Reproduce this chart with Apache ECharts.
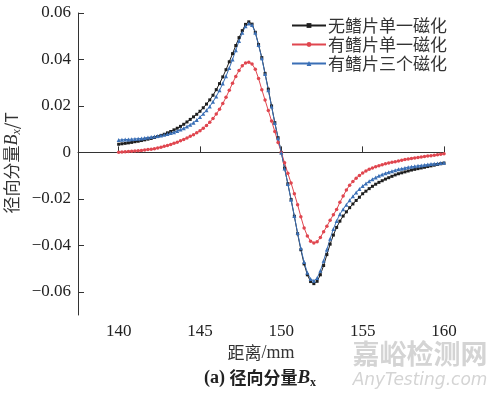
<!DOCTYPE html>
<html><head><meta charset="utf-8">
<script src="https://cdn.jsdelivr.net/npm/echarts@6/dist/echarts.min.js"></script>
<style>html,body{margin:0;padding:0;background:#fff}#c{width:500px;height:394px}</style>
</head><body><div id="c"></div>
<script>
var distance = [140.0,140.2,140.4,140.6,140.8,141.0,141.2,141.4,141.6,141.8,142.0,142.2,142.4,142.6,142.8,143.0,143.2,143.4,143.6,143.8,144.0,144.2,144.4,144.6,144.8,145.0,145.2,145.4,145.6,145.8,146.0,146.2,146.4,146.6,146.8,147.0,147.2,147.4,147.6,147.8,148.0,148.2,148.4,148.6,148.8,149.0,149.2,149.4,149.6,149.8,150.0,150.2,150.4,150.6,150.8,151.0,151.2,151.4,151.6,151.8,152.0,152.2,152.4,152.6,152.8,153.0,153.2,153.4,153.6,153.8,154.0,154.2,154.4,154.6,154.8,155.0,155.2,155.4,155.6,155.8,156.0,156.2,156.4,156.6,156.8,157.0,157.2,157.4,157.6,157.8,158.0,158.2,158.4,158.6,158.8,159.0,159.2,159.4,159.6,159.8,160.0];
var noFinSingle = [0.0035,0.0037,0.0039,0.0041,0.0043,0.0046,0.0048,0.0051,0.0054,0.0057,0.0060,0.0064,0.0068,0.0073,0.0078,0.0084,0.0090,0.0097,0.0104,0.0112,0.0121,0.0131,0.0142,0.0153,0.0164,0.0177,0.0192,0.0208,0.0226,0.0246,0.0270,0.0296,0.0325,0.0356,0.0390,0.0425,0.0460,0.0494,0.0524,0.0551,0.0562,0.0552,0.0517,0.0464,0.0408,0.0340,0.0272,0.0200,0.0128,0.0063,0.0000,-0.0068,-0.0135,-0.0203,-0.0275,-0.0350,-0.0419,-0.0480,-0.0527,-0.0556,-0.0565,-0.0555,-0.0527,-0.0487,-0.0440,-0.0395,-0.0356,-0.0323,-0.0296,-0.0274,-0.0256,-0.0238,-0.0222,-0.0207,-0.0193,-0.0178,-0.0167,-0.0156,-0.0146,-0.0137,-0.0129,-0.0122,-0.0115,-0.0109,-0.0103,-0.0097,-0.0092,-0.0088,-0.0084,-0.0080,-0.0076,-0.0073,-0.0070,-0.0067,-0.0064,-0.0061,-0.0058,-0.0055,-0.0052,-0.0049,-0.0046];
var finSingle = [0.0001,0.0002,0.0003,0.0004,0.0005,0.0006,0.0007,0.0008,0.0010,0.0012,0.0014,0.0016,0.0019,0.0022,0.0026,0.0030,0.0034,0.0039,0.0044,0.0050,0.0056,0.0062,0.0069,0.0076,0.0084,0.0093,0.0104,0.0116,0.0130,0.0146,0.0165,0.0186,0.0210,0.0237,0.0267,0.0298,0.0327,0.0353,0.0373,0.0385,0.0388,0.0380,0.0358,0.0318,0.0270,0.0225,0.0180,0.0135,0.0090,0.0043,0.0000,-0.0045,-0.0090,-0.0132,-0.0178,-0.0225,-0.0277,-0.0325,-0.0360,-0.0382,-0.0390,-0.0385,-0.0366,-0.0342,-0.0318,-0.0292,-0.0268,-0.0246,-0.0215,-0.0188,-0.0162,-0.0141,-0.0125,-0.0111,-0.0099,-0.0089,-0.0080,-0.0073,-0.0067,-0.0062,-0.0057,-0.0053,-0.0049,-0.0046,-0.0043,-0.0040,-0.0037,-0.0034,-0.0031,-0.0028,-0.0026,-0.0024,-0.0022,-0.0020,-0.0018,-0.0016,-0.0014,-0.0012,-0.0010,-0.0008,-0.0006];
var finTriple = [0.0053,0.0054,0.0055,0.0056,0.0057,0.0058,0.0059,0.0060,0.0062,0.0064,0.0066,0.0068,0.0070,0.0073,0.0076,0.0079,0.0083,0.0087,0.0092,0.0098,0.0104,0.0111,0.0119,0.0128,0.0139,0.0152,0.0166,0.0181,0.0198,0.0218,0.0241,0.0267,0.0296,0.0328,0.0363,0.0400,0.0440,0.0480,0.0515,0.0543,0.0555,0.0548,0.0515,0.0462,0.0405,0.0337,0.0268,0.0197,0.0126,0.0061,-0.0002,-0.0069,-0.0136,-0.0204,-0.0274,-0.0347,-0.0413,-0.0472,-0.0518,-0.0545,-0.0553,-0.0541,-0.0510,-0.0467,-0.0418,-0.0372,-0.0330,-0.0295,-0.0266,-0.0245,-0.0225,-0.0206,-0.0189,-0.0173,-0.0158,-0.0145,-0.0134,-0.0124,-0.0116,-0.0108,-0.0101,-0.0095,-0.0090,-0.0085,-0.0081,-0.0077,-0.0073,-0.0070,-0.0067,-0.0064,-0.0062,-0.0060,-0.0058,-0.0056,-0.0054,-0.0052,-0.0050,-0.0049,-0.0048,-0.0046,-0.0045];
var seriesNames = ['无鳍片单一磁化','有鳍片单一磁化','有鳍片三个磁化'];
var xTicks = [140,145,150,155,160];
var yTicks = [-0.06,-0.04,-0.02,0,0.02,0.04,0.06];

function pairs(ys){ return distance.map(function(x,i){ return [x, ys[i]]; }); }
var serif = '"Liberation Serif","DejaVu Serif",serif';
var cjk = '"Noto Sans CJK SC","Liberation Serif",serif';
var chart = echarts.init(document.getElementById('c'), null, {renderer:'canvas'});
var colors = ['#1e1e1e','#e0464f','#3a6fb6'];
var symbols = ['rect','circle','triangle'];
var sizes = [3,3.5,4];
var datas = [noFinSingle, finSingle, finTriple];
chart.setOption({
  animation:false,
  backgroundColor:'#fff',
  grid:{left:78,right:56,top:13,bottom:79,containLabel:false},
  legend:{
    data:seriesNames, orient:'vertical', left:286, top:12, itemGap:2,
    itemWidth:34, itemHeight:6,
    textStyle:{fontFamily:cjk, fontSize:17, color:'#333', padding:[0,0,0,-3]}
  },
  xAxis:{
    type:'value', min:137.5, max:160,
    axisLine:{lineStyle:{color:'#333',width:1}},
    axisTick:{inside:true,length:6,customValues:xTicks,lineStyle:{color:'#333'}},
    axisLabel:{customValues:xTicks, fontFamily:serif, fontSize:17, color:'#222', margin:8},
    splitLine:{show:false}
  },
  yAxis:{
    type:'value', min:-0.07, max:0.06,
    axisLine:{show:true,lineStyle:{color:'#333',width:1}},
    axisTick:{show:true,inside:true,length:6,customValues:yTicks,lineStyle:{color:'#333'}},
    axisLabel:{customValues:yTicks, fontFamily:serif, fontSize:17, color:'#222', margin:7,
      formatter:function(v){ if(Math.abs(v)<1e-9) return '0'; var s=Math.abs(v).toFixed(2); return v<0?'\u2212'+s:s; }},
    splitLine:{show:false}
  },
  series: datas.map(function(d,i){ return {
    name:seriesNames[i], type:'line', data:pairs(d), symbol:symbols[i], symbolSize:sizes[i],
    showSymbol:true, lineStyle:{color:colors[i],width:1}, itemStyle:{color:colors[i]}, z:3
  };}),
  graphic:[
    {type:'text', x:12, y:163, rotation:Math.PI/2,
      style:{text:'{a|径向分量}{b|B}{c|x}{a|/T}', align:'center', verticalAlign:'middle',
        rich:{a:{fontFamily:cjk,fontSize:17,fill:'#333'}, b:{fontFamily:serif,fontStyle:'italic',fontSize:18,fill:'#333'}, c:{fontFamily:serif,fontStyle:'italic',fontSize:12,fill:'#333',padding:[9,0,0,0]}}}},
    {type:'text', x:261, y:353,
      style:{text:'{a|距离}{b|/mm}', align:'center', verticalAlign:'middle',
        rich:{a:{fontFamily:cjk,fontSize:17,fill:'#333'}, b:{fontFamily:serif,fontSize:18,fill:'#333'}}}},
    {type:'text', x:260, y:378,
      style:{text:'{b|(a) }{a|径向分量}{i|B}{s|x}', align:'center', verticalAlign:'middle',
        rich:{a:{fontFamily:cjk,fontSize:17,fontWeight:'bold',fill:'#222'}, b:{fontFamily:serif,fontSize:18,fontWeight:'bold',fill:'#222'}, i:{fontFamily:serif,fontSize:19,fontWeight:'bold',fontStyle:'italic',fill:'#222'}, s:{fontFamily:serif,fontSize:12,fontWeight:'bold',fill:'#222',padding:[10,0,0,0]}}}},
    {type:'text', x:420, y:354, z:-1,
      style:{text:'嘉峪检测网', align:'center', verticalAlign:'middle', fontFamily:cjk, fontSize:27, fontWeight:'bold', fill:'#d4d4d4'}},
    {type:'text', x:420, y:381, z:-1,
      style:{text:'AnyTesting.com', align:'center', verticalAlign:'middle', fontFamily:'"DejaVu Sans",sans-serif', fontSize:17, fontStyle:'italic', fill:'#d4d4d4'}}
  ]
});
</script></body></html>
